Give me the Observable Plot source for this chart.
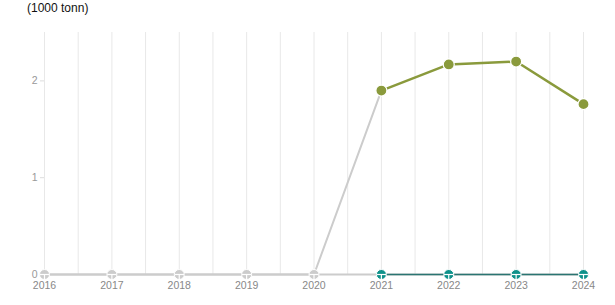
<!DOCTYPE html>
<html>
<head>
<meta charset="utf-8">
<script src="https://cdn.jsdelivr.net/npm/d3@7"></script>
<script src="https://cdn.jsdelivr.net/npm/@observablehq/plot@0.6"></script>
<style>
  body { margin: 0; background: #fff; font-family: "Liberation Sans", Arial, sans-serif; }
  #title { position: absolute; left: 27px; top: 1px; font-size: 12px; color: #111; }
  #chart { position: absolute; left: 0; top: 16px; }
</style>
</head>
<body>
<div id="title">(1000 tonn)</div>
<div id="chart"></div>
<script>
const greyYears = [2016, 2017, 2018, 2019, 2020];
const greyValues = [0, 0, 0, 0, 0];
const greenYears = [2021, 2022, 2023, 2024];
const greenValues = [1.9, 2.17, 2.2, 1.76];
const tealYears = [2021, 2022, 2023, 2024];
const tealValues = [0, 0, 0, 0];
const yTicks = [0, 1, 2];
const xTicks = [2016, 2017, 2018, 2019, 2020, 2021, 2022, 2023, 2024];

const grey = greyYears.map((x, i) => ({x, y: greyValues[i]}));
const green = greenYears.map((x, i) => ({x, y: greenValues[i]}));
const teal = tealYears.map((x, i) => ({x, y: tealValues[i]}));
const greyLine = [...grey, green[0]];
const grid = d3.range(xTicks[0], xTicks[xTicks.length - 1] + 0.01, 0.5);

const GREY = "#cccccc", GREEN = "#8a9a3c", TEAL = "#0e918a";

const chart = Plot.plot({
  width: 615,
  height: 289,
  marginLeft: 44,
  marginRight: 32,
  marginTop: 16,
  marginBottom: 31,
  style: {fontFamily: "Liberation Sans, Arial, sans-serif", fontSize: "10.5px", color: "#888"},
  x: {domain: [2016, 2024], label: null},
  y: {domain: [0, 2.5], label: null},
  marks: [
    Plot.ruleX(grid, {x: d => d, y1: 0, y2: 2.5, stroke: "#e8e8e8", strokeWidth: 1}),
    Plot.axisX({ticks: xTicks, tickFormat: d => String(d), tickSize: 0, tickPadding: 7, color: "#888"}),
    Plot.axisY({ticks: yTicks, tickFormat: d => String(d), tickSize: 4, tickPadding: 3, color: "#999", stroke: "#ddd"}),
    Plot.ruleY([0], {stroke: GREY, strokeWidth: 2}),
    Plot.line(greyLine, {x: "x", y: "y", stroke: GREY, strokeWidth: 2}),
    Plot.line(teal, {x: "x", y: "y", stroke: "#2a7572", strokeWidth: 1.5}),
    Plot.line(green, {x: "x", y: "y", stroke: GREEN, strokeWidth: 2.5}),
    Plot.dot(grey, {x: "x", y: "y", r: 5, fill: GREY, stroke: "white", strokeWidth: 1}),
    Plot.dot(teal, {x: "x", y: "y", r: 5, fill: TEAL, stroke: "white", strokeWidth: 1}),
    Plot.link([...grey, ...teal], {x1: d => d.x - 0.07, x2: d => d.x + 0.07, y1: "y", y2: "y", stroke: "white", strokeWidth: 1.2}),
    Plot.link([...grey, ...teal], {x1: "x", x2: "x", y1: "y", y2: d => d.y - 0.06, stroke: "white", strokeWidth: 1.2}),
    Plot.dot(green, {x: "x", y: "y", r: 5.5, fill: GREEN, stroke: "white", strokeWidth: 1.2})
  ]
});
document.getElementById("chart").appendChild(chart);
</script>
</body>
</html>
